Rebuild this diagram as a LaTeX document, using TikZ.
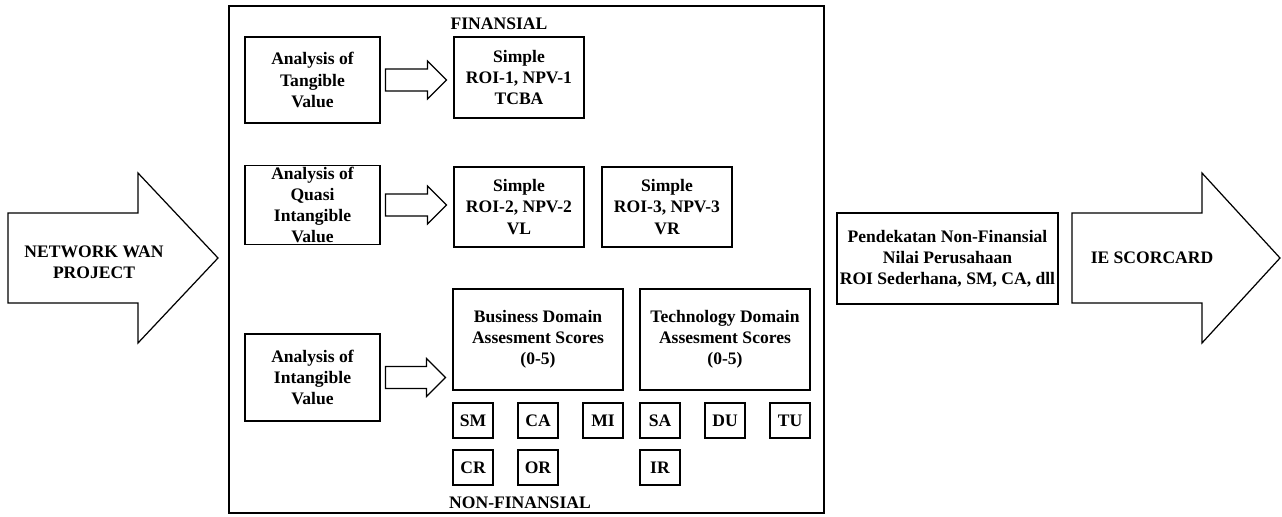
\documentclass[tikz,border=0pt]{standalone}
\usepackage{fontspec}
\setmainfont{Liberation Serif}
\usetikzlibrary{calc}

\tikzset{
  box/.style={draw, align=center, inner sep=1pt},
  codebox/.style={box, minimum width=0.8cm, minimum height=0.7cm},
}
\newcommand{\hollowarrow}[2]{%
  \coordinate (s) at ($(#1.east)+(5,0)$);
  \coordinate (t) at ($(#2.west |- s)+(-7,0)$);
  \draw ($(s)+(0,-11)$) -- ($(t)+(-19,-11)$) -- ($(t)+(-19,-19)$) -- (t)
    -- ($(t)+(-19,19)$) -- ($(t)+(-19,11)$) -- ($(s)+(0,11)$) -- cycle;
}

\begin{document}
\begin{tikzpicture}[x=0.02cm, y=-0.02cm, line width=0.7pt,
    font=\bfseries\fontsize{10}{12}\selectfont]
        \useasboundingbox (0,0) rectangle (1282,517);
        % input arrow
        \draw (8,213) -- (138,213) -- (138,173) -- (218,258) -- (138,343) -- (138,303) -- (8,303) -- cycle;
        \node[align=center] (wan) at (94,262) {NETWORK WAN\\PROJECT};
        % frame
        \draw (229,6) rectangle (824,513);
        \node (fin) at (499,24) {FINANSIAL};
        \node (nonfin) at (520,503) {NON-FINANSIAL};
        % tangible
        \node[box, minimum width=2.7cm, minimum height=1.72cm] (tang) at (312.5,80) {Analysis of\\Tangible\\Value};
        \node[box, minimum width=2.6cm, minimum height=1.62cm] (roi1) at (519,77.5) {Simple\\ROI-1, NPV-1\\TCBA};
        \hollowarrow{tang}{roi1}
        % quasi intangible
        \node[box, minimum width=2.7cm, minimum height=1.56cm] (quasi) at (312.5,205) {Analysis of\\Quasi\\Intangible\\Value};
        \node[box, minimum width=2.6cm, minimum height=1.6cm] (roi2) at (519,207) {Simple\\ROI-2, NPV-2\\VL};
        \node[box, minimum width=2.6cm, minimum height=1.6cm] (roi3) at (667,207) {Simple\\ROI-3, NPV-3\\VR};
        \hollowarrow{quasi}{roi2}
        % intangible
        \node[box, minimum width=2.7cm, minimum height=1.74cm] (intang) at (312.5,377.5) {Analysis of\\Intangible\\Value};
        \node[box, minimum width=3.4cm, minimum height=2.02cm] (bus) at (538,339.5) {Business Domain\\Assesment Scores\\(0-5)};
        \node[box, minimum width=3.4cm, minimum height=2.02cm] (tech) at (725,339.5) {Technology Domain\\Assesment Scores\\(0-5)};
        \hollowarrow{intang}{bus}
        \node[codebox] (sm) at (473,420.5) {SM};
        \node[codebox] (ca) at (538,420.5) {CA};
        \node[codebox] (mi) at (603,420.5) {MI};
        \node[codebox] (sa) at (660,420.5) {SA};
        \node[codebox] (du) at (725,420.5) {DU};
        \node[codebox] (tu) at (790,420.5) {TU};
        \node[codebox] (cr) at (473,467.5) {CR};
        \node[codebox] (or) at (538,467.5) {OR};
        \node[codebox] (ir) at (660,467.5) {IR};
        % output
        \node[box, minimum width=4.42cm, minimum height=1.82cm] (pend) at (947.5,258.5) {Pendekatan Non-Finansial\\Nilai Perusahaan\\ROI Sederhana, SM, CA, dll};
        \draw (1072,213) -- (1202,213) -- (1202,173) -- (1280,258) -- (1202,343) -- (1202,303) -- (1072,303) -- cycle;
        \node (ie) at (1152,258) {IE SCORCARD};
\end{tikzpicture}
\end{document}
